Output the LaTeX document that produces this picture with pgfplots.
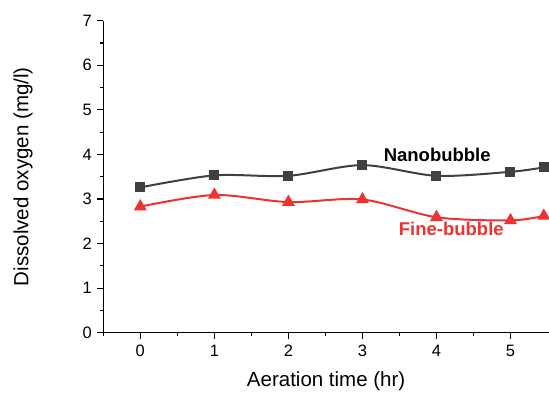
\documentclass[border=0pt]{standalone}
\usepackage{pgfplots}
\pgfplotsset{compat=1.18}
\usepackage{fontspec}
\setmainfont{Liberation Sans}
\definecolor{nano}{RGB}{64,64,64}
\definecolor{fine}{RGB}{238,50,50}
\begin{document}
\begin{tikzpicture}
\begin{axis}[
  at={(0,0)}, anchor=south west,
  scale only axis,
  width=445.7pt, height=312pt,
  xmin=-0.5, xmax=5.52, ymin=0, ymax=7,
  axis lines*=left,
  axis line style={line width=1.2pt, black},
  tick align=outside,
  major tick length=6pt, minor tick length=3.5pt,
  tick style={line width=1.1pt, black},
  xtick={0,1,2,3,4,5}, ytick={0,1,...,7},
  minor xtick={-0.5,0.5,1.5,2.5,3.5,4.5}, minor ytick={0.5,1.5,...,6.5},
  ticklabel style={font=\fontsize{16.5}{19}\selectfont},
  xticklabel style={yshift=-3pt},
  yticklabel style={xshift=-2pt},
  /pgf/number format/assume math mode=true,
  xlabel={Aeration time (hr)},
  ylabel={Dissolved oxygen (mg/l)},
  label style={font=\fontsize{20.5}{24}\selectfont},
  xlabel style={at={(axis description cs:0.5,-0.157)}, anchor=center},
  ylabel style={at={(axis description cs:-0.18,0.5)}, anchor=center},
  clip=false,
]
\addplot[nano, line width=2pt, smooth, tension=0.5, mark=square*, mark size=4pt, mark options={solid, fill=nano}]
coordinates {(0,3.26) (1,3.53) (2,3.52) (3,3.76) (4,3.52) (5,3.61) (5.45,3.71)};
\addplot[fine, line width=2pt, smooth, tension=0.5, mark=triangle*, mark size=5.5pt, mark options={solid, fill=fine}]
coordinates {(0,2.83) (1,3.09) (2,2.93) (3,2.99) (4,2.59) (5,2.52) (5.45,2.62)};
\node[font=\fontsize{18.5}{22}\selectfont\bfseries, text=black] at (axis cs:4.01,3.99) {Nanobubble};
\node[font=\fontsize{18.5}{22}\selectfont\bfseries, text=fine] at (axis cs:4.2,2.33) {Fine-bubble};
\end{axis}
\pgfresetboundingbox
\path (-103.3pt,-59.3pt) rectangle (445.7pt,332.7pt);
\end{tikzpicture}
\end{document}
